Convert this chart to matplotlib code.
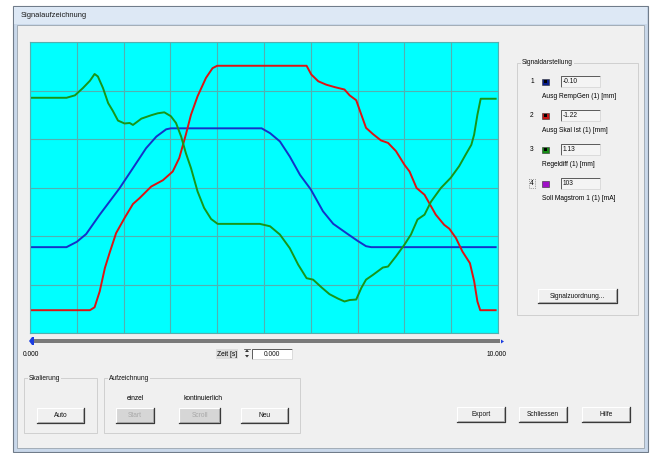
import matplotlib.pyplot as plt
from matplotlib.patches import Rectangle, Polygon

# Zeitachse 0..10 s, Amplitude in Rastereinheiten (6 Teilungen)
t_blue = [0.0, 0.78, 1.0, 1.2, 1.49, 1.91, 2.2, 2.48, 2.7, 2.91, 3.01, 4.95, 5.13, 5.34, 5.55,
          5.77, 6.0, 6.26, 6.48, 6.76, 7.0, 7.18, 7.29, 9.95]
y_blue = [1.77, 1.77, 1.88, 2.04, 2.44, 2.98, 3.40, 3.81, 4.05, 4.20, 4.22, 4.22, 4.12, 3.95, 3.64,
          3.26, 2.96, 2.51, 2.25, 2.06, 1.90, 1.79, 1.77, 1.77]

t_red = [0.0, 1.28, 1.38, 1.49, 1.6, 1.7, 1.84, 2.02, 2.2, 2.34, 2.59, 2.84, 3.05, 3.19, 3.33,
         3.44, 3.58, 3.76, 3.9, 4.0, 5.91, 6.01, 6.16, 6.33, 6.51, 6.72, 6.83, 6.97, 7.08, 7.18,
         7.33, 7.5, 7.65, 7.82, 8.0, 8.11, 8.26, 8.43, 8.53, 8.67, 8.85, 8.96, 9.1, 9.24, 9.4,
         9.49, 9.56, 9.62, 9.95]
y_red = [0.47, 0.47, 0.53, 0.86, 1.34, 1.65, 2.06, 2.37, 2.66, 2.78, 3.02, 3.15, 3.33, 3.61, 4.09,
         4.50, 4.88, 5.26, 5.46, 5.51, 5.51, 5.33, 5.19, 5.12, 5.07, 5.02, 4.90, 4.80, 4.50, 4.23,
         4.10, 3.97, 3.92, 3.75, 3.47, 3.33, 2.99, 2.85, 2.68, 2.44, 2.23, 2.15, 1.96, 1.68, 1.44,
         1.07, 0.65, 0.47, 0.47]

t_green = [0.0, 0.78, 0.96, 1.13, 1.28, 1.38, 1.45, 1.56, 1.67, 1.77, 1.88, 2.02, 2.13, 2.2, 2.38,
           2.59, 2.73, 2.87, 3.01, 3.12, 3.23, 3.33, 3.44, 3.58, 3.72, 3.87, 4.01, 4.91, 5.13,
           5.34, 5.55, 5.73, 5.91, 6.05, 6.23, 6.4, 6.58, 6.72, 6.83, 6.97, 7.08, 7.18, 7.33,
           7.54, 7.65, 7.82, 8.0, 8.14, 8.28, 8.43, 8.57, 8.78, 8.99, 9.17, 9.31, 9.43, 9.49,
           9.56, 9.63, 9.95]
y_green = [4.85, 4.85, 4.90, 5.05, 5.20, 5.34, 5.29, 5.05, 4.74, 4.58, 4.38, 4.32, 4.33, 4.29, 4.42,
           4.49, 4.53, 4.55, 4.47, 4.33, 4.05, 3.71, 3.40, 2.92, 2.58, 2.35, 2.25, 2.25, 2.20,
           2.03, 1.75, 1.41, 1.13, 1.10, 0.94, 0.80, 0.71, 0.65, 0.68, 0.69, 0.93, 1.10, 1.20,
           1.35, 1.37, 1.58, 1.82, 2.03, 2.34, 2.44, 2.71, 2.99, 3.20, 3.44, 3.68, 3.88, 4.09,
           4.50, 4.83, 4.83]

signal_nr = ['1', '2', '3', '4']
signal_werte = ['-0.10', '-1.22', '1.13', '103']
signal_namen = ['Ausg RempGen (1) [mm]', 'Ausg Skal Ist (1) [mm]', 'Regeldiff (1) [mm]',
                'Soll Magstrom 1 (1) [mA]']
signal_farben = ['#0a1e8c', '#c81414', '#148c14', '#a010c8']

plt.rcParams['font.family'] = ['Liberation Sans', 'DejaVu Sans']
FS = 4.8

fig = plt.figure(figsize=(6.58, 4.53), dpi=100)
fig.patch.set_facecolor('white')

# Fensterrahmen als Pixel-Leinwand
ui = fig.add_axes([0, 0, 1, 1])
ui.set_xlim(0, 658)
ui.set_ylim(453, 0)
ui.axis('off')

ui.add_patch(Rectangle((13, 6), 635, 446, fc='#c9d8ea', ec='#707c8a', lw=0.8))
ui.add_patch(Rectangle((14, 7), 633, 17, fc='#dde8f5', ec='none'))
ui.add_patch(Rectangle((17, 25), 627, 423, fc='#f0f0f0', ec='#9aa4ae', lw=0.6))
ui.text(21, 15.5, 'Signalaufzeichnung', fontsize=5.4, va='center', ha='left', color='#1a1a1a')


def button(x0, y0, x1, y1, label, disabled=False):
    face = '#d6d6d6' if disabled else '#f0f0f0'
    ui.add_patch(Rectangle((x0, y0), x1 - x0, y1 - y0, fc=face, ec='none'))
    ui.plot([x0, x0, x1], [y1, y0, y0], color='white', lw=0.8)
    ui.plot([x0, x1, x1], [y1, y1, y0], color='#3a3a3a', lw=0.9)
    ui.plot([x0 + 1, x1 - 1, x1 - 1], [y1 - 1, y1 - 1, y0 + 1], color='#a0a0a0', lw=0.6)
    ui.text((x0 + x1) / 2, (y0 + y1) / 2 + 0.3, label, fontsize=FS, ha='center', va='center',
            color='#a8a8a8' if disabled else '#111111')


def group(x0, y0, x1, y1, label):
    ui.add_patch(Rectangle((x0, y0), x1 - x0, y1 - y0, fc='none', ec='#cfcfcf', lw=0.7))
    ui.text(x0 + 5, y0, label, fontsize=FS, ha='left', va='center', color='#111111',
            bbox=dict(fc='#f0f0f0', ec='none', pad=0.6))


def textbox(x0, y0, x1, y1, value, fill='#f4f4f4', ha='left'):
    ui.add_patch(Rectangle((x0, y0), x1 - x0, y1 - y0, fc=fill, ec='none'))
    ui.plot([x0, x0, x1], [y1, y0, y0], color='#5a5a5a', lw=0.7)
    ui.plot([x0, x1, x1], [y1, y1, y0], color='#d8d8d8', lw=0.6)
    tx = x0 + 2 if ha == 'left' else (x0 + x1) / 2
    ui.text(tx, (y0 + y1) / 2 + 0.3, value, fontsize=FS, ha=ha, va='center', color='#111111')


# Diagramm
ax = fig.add_axes([30 / 658, (453 - 333) / 453, 468 / 658, 291 / 453])
ax.set_facecolor('#00ffff')
ax.set_xlim(0, 10)
ax.set_ylim(0, 6)
ax.set_xticks(range(11))
ax.set_yticks(range(7))
ax.grid(True, color='#52b0b0', lw=0.8)
ax.tick_params(length=0, labelleft=False, labelbottom=False)
for s in ax.spines.values():
    s.set_color('#52b0b0')
    s.set_linewidth(0.8)
ax.plot(t_blue, y_blue, color='#1432c8', lw=1.4)
ax.plot(t_red, y_red, color='#dc1414', lw=1.4)
ax.plot(t_green, y_green, color='#189618', lw=1.4)

# Zeitschieber
ui.add_patch(Rectangle((32, 339), 468, 4, fc='#7a7a7a', ec='none'))
ui.add_patch(Polygon([[29, 341], [32, 337], [34, 337], [34, 345], [32, 345]], fc='#1a3ce0', ec='none'))
ui.add_patch(Polygon([[501, 339.5], [504, 341.5], [501, 343.5]], fc='#1a3ce0', ec='none'))
ui.text(23, 354, '0.000', fontsize=FS, ha='left', va='center')
ui.text(497, 354, '10.000', fontsize=FS, ha='center', va='center')
ui.text(227, 354, 'Zeit [s]', fontsize=FS, ha='center', va='center',
        bbox=dict(fc='#dcdcdc', ec='none', pad=0.8))
ui.plot([244, 250], [349, 349], color='#333333', lw=0.5)
ui.add_patch(Polygon([[245, 352], [247, 349.5], [249, 352]], fc='#333333', ec='none'))
ui.add_patch(Polygon([[245, 355], [247, 357.5], [249, 355]], fc='#333333', ec='none'))
textbox(252, 349, 292, 358.5, '0.000', fill='white', ha='center')

# Gruppen unten
group(24, 378, 97, 433, 'Skalierung')
button(37, 408, 84, 423, 'Auto')
group(104, 378, 300, 433, 'Aufzeichnung')
ui.text(135, 398, 'einzel', fontsize=FS, ha='center', va='center')
ui.text(203, 398, 'kontinuierlich', fontsize=FS, ha='center', va='center')
button(116, 408, 154, 423, 'Start', disabled=True)
button(179, 408, 220, 423, 'Scroll', disabled=True)
button(241, 408, 288, 423, 'Neu')

button(457, 407, 505, 422, 'Export')
button(519, 407, 567, 422, 'Schliessen')
button(582, 407, 630, 422, 'Hilfe')

# Signaldarstellung
group(517, 63, 638, 315, 'Signaldarstellung')
for i in range(len(signal_nr)):
    yc = 81.5 + i * 34
    ui.text(532, yc, signal_nr[i], fontsize=FS, ha='center', va='center')
    ui.add_patch(Rectangle((541.5, yc - 3), 7, 6, fc=signal_farben[i], ec='#303030', lw=0.4))
    if i < 3:
        ui.add_patch(Rectangle((543.5, yc - 1.3), 3, 2.6, fc='black', ec='none'))
    textbox(561, yc - 5.5, 600, yc + 5.5, signal_werte[i])
    ui.text(542, yc + 15.5, signal_namen[i], fontsize=FS, ha='left', va='center')
ui.add_patch(Rectangle((529, 81.5 + 3 * 34 - 4.5), 6, 9, fc='none', ec='#555555', lw=0.5, ls=':'))
button(538, 289, 617, 303, 'Signalzuordnung...')

fig.savefig('out.png', dpi=100)
